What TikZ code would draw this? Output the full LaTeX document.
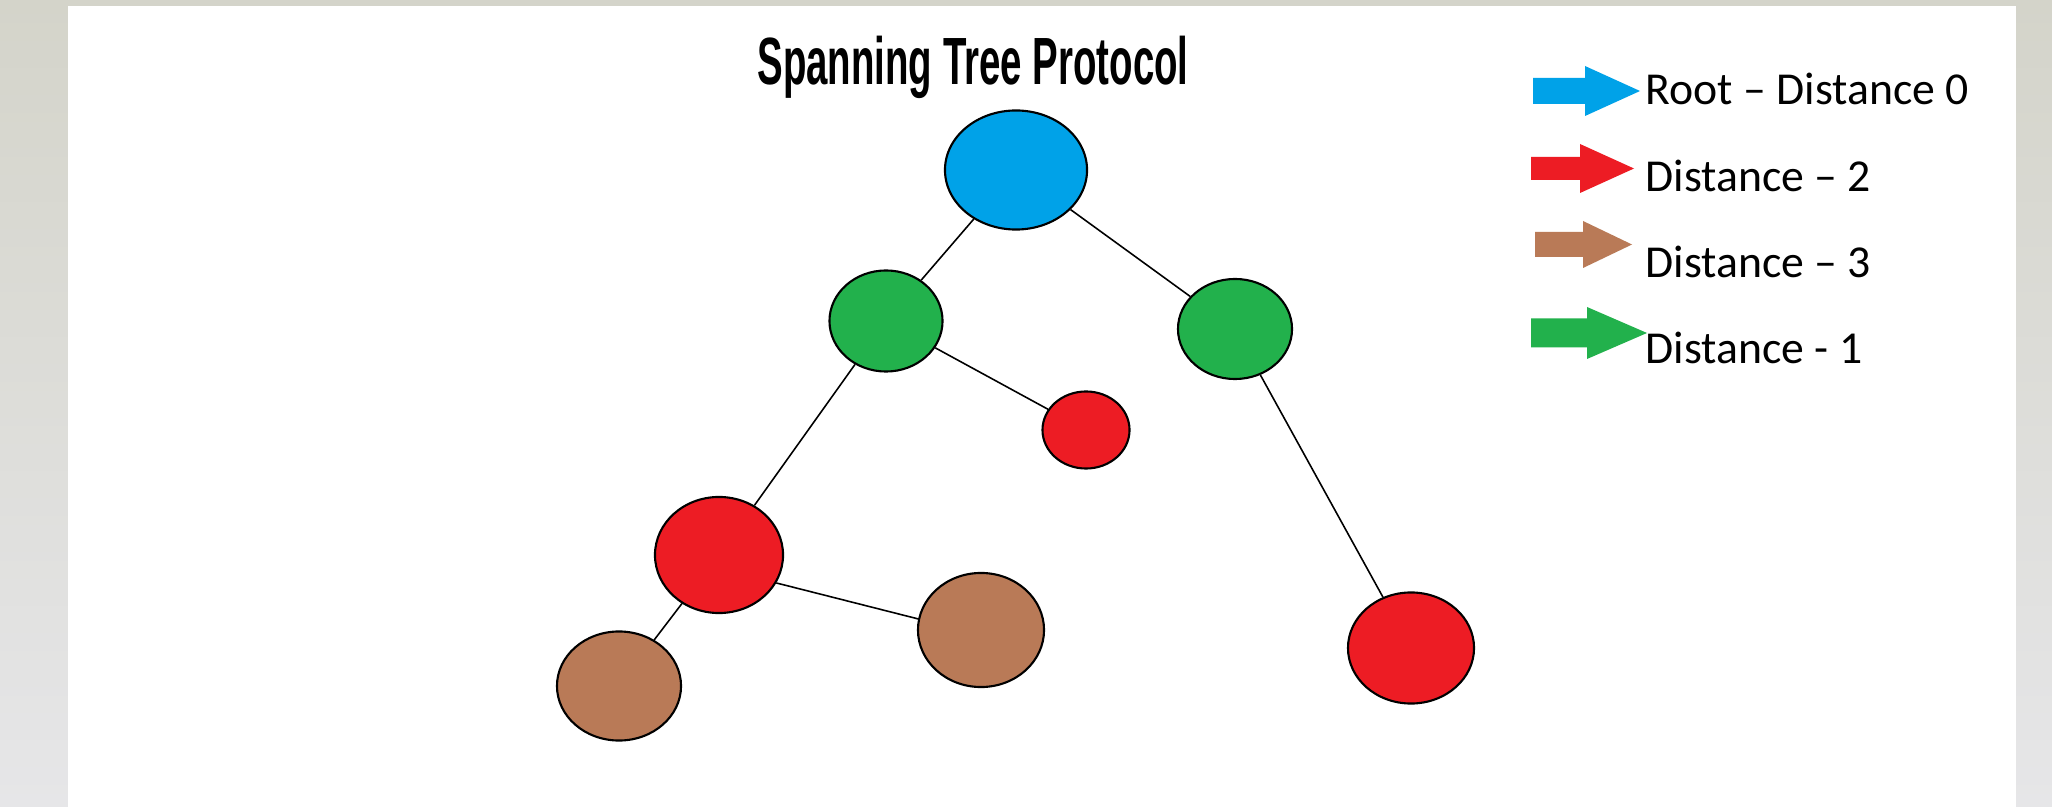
\documentclass[tikz,border=0pt]{standalone}
\usepackage{fontspec}
\usepackage{graphicx}
\usetikzlibrary{shapes.geometric}
\setmainfont{Carlito}
\newfontfamily\titlefont{Liberation Sans}

\definecolor{rootblue}{RGB}{0,162,232}
\definecolor{hopgreen}{RGB}{34,177,76}
\definecolor{hopred}{RGB}{237,28,36}
\definecolor{hopbrown}{RGB}{185,122,87}
\definecolor{backtop}{RGB}{212,212,202}
\definecolor{backmid}{RGB}{222,226,204}
\definecolor{backbot}{RGB}{230,230,232}

\begin{document}
\begin{tikzpicture}[x=0.01cm, y=-0.01cm,
	switch/.style = {ellipse, draw, line width=0.6pt, inner sep=0},
	link/.style = {line width=0.45pt},
	entry/.style = {anchor=base west, inner sep=0, font=\fontsize{13}{13}\selectfont}]

%backdrop start
\fill[top color=backtop, middle color=backmid, bottom color=backbot]
	(0, 0) rectangle (2052, 807);
\fill[white] (68, 6) rectangle (2016, 807);
%backdrop end

\node[anchor=base, inner sep=0] (title) at (973, 85)
	{\titlefont\bfseries\fontsize{19}{19}\selectfont\scalebox{0.575}[1]{Spanning Tree Protocol}};

%switches start
\node[switch, fill=rootblue, minimum width=1.42cm, minimum height=1.19cm] (root) at (1016, 170) {};
\node[switch, fill=hopgreen, minimum width=1.13cm, minimum height=1.01cm] (oneleft) at (886, 321) {};
\node[switch, fill=hopgreen, minimum width=1.14cm, minimum height=1.00cm] (oneright) at (1235, 329) {};
\node[switch, fill=hopred, minimum width=0.87cm, minimum height=0.77cm] (twomid) at (1086, 430) {};
\node[switch, fill=hopred, minimum width=1.28cm, minimum height=1.16cm] (twoleft) at (719, 555) {};
\node[switch, fill=hopred, minimum width=1.26cm, minimum height=1.11cm] (tworight) at (1411, 648) {};
\node[switch, fill=hopbrown, minimum width=1.24cm, minimum height=1.09cm] (threeleft) at (619, 686) {};
\node[switch, fill=hopbrown, minimum width=1.26cm, minimum height=1.14cm] (threeright) at (981, 630) {};
%switches end

\draw[link] (root) -- (oneleft);
\draw[link] (root) -- (oneright);
\draw[link] (oneleft) -- (twomid);
\draw[link] (oneleft) -- (twoleft);
\draw[link] (oneright) -- (tworight);
\draw[link] (twoleft) -- (threeleft);
\draw[link] (twoleft.-26) -- (threeright.170);

%legend start
\foreach \col/\xa/\xb/\xc/\ym/\s/\h/\yb/\lab [count=\i] in {
	rootblue/1533/1585/1640/91/13/25/105/{Root – Distance 0},
	hopred/1531/1580/1634/168.5/11.5/24.5/192/{Distance – 2},
	hopbrown/1535/1583/1632/244.5/12.5/23.5/278/{Distance – 3},
	hopgreen/1531/1587/1647/333/14.5/26/364/{Distance - 1}}
{
	\fill[\col] ({\xa}, {\ym-\s}) --
		({\xb}, {\ym-\s}) --
		({\xb}, {\ym-\h}) --
		({\xc}, {\ym}) --
		({\xb}, {\ym+\h}) --
		({\xb}, {\ym+\s}) --
		({\xa}, {\ym+\s}) -- cycle;
	\node[entry] (key\i) at (1645, \yb) {\lab};
}
%legend end

\end{tikzpicture}
\end{document}
